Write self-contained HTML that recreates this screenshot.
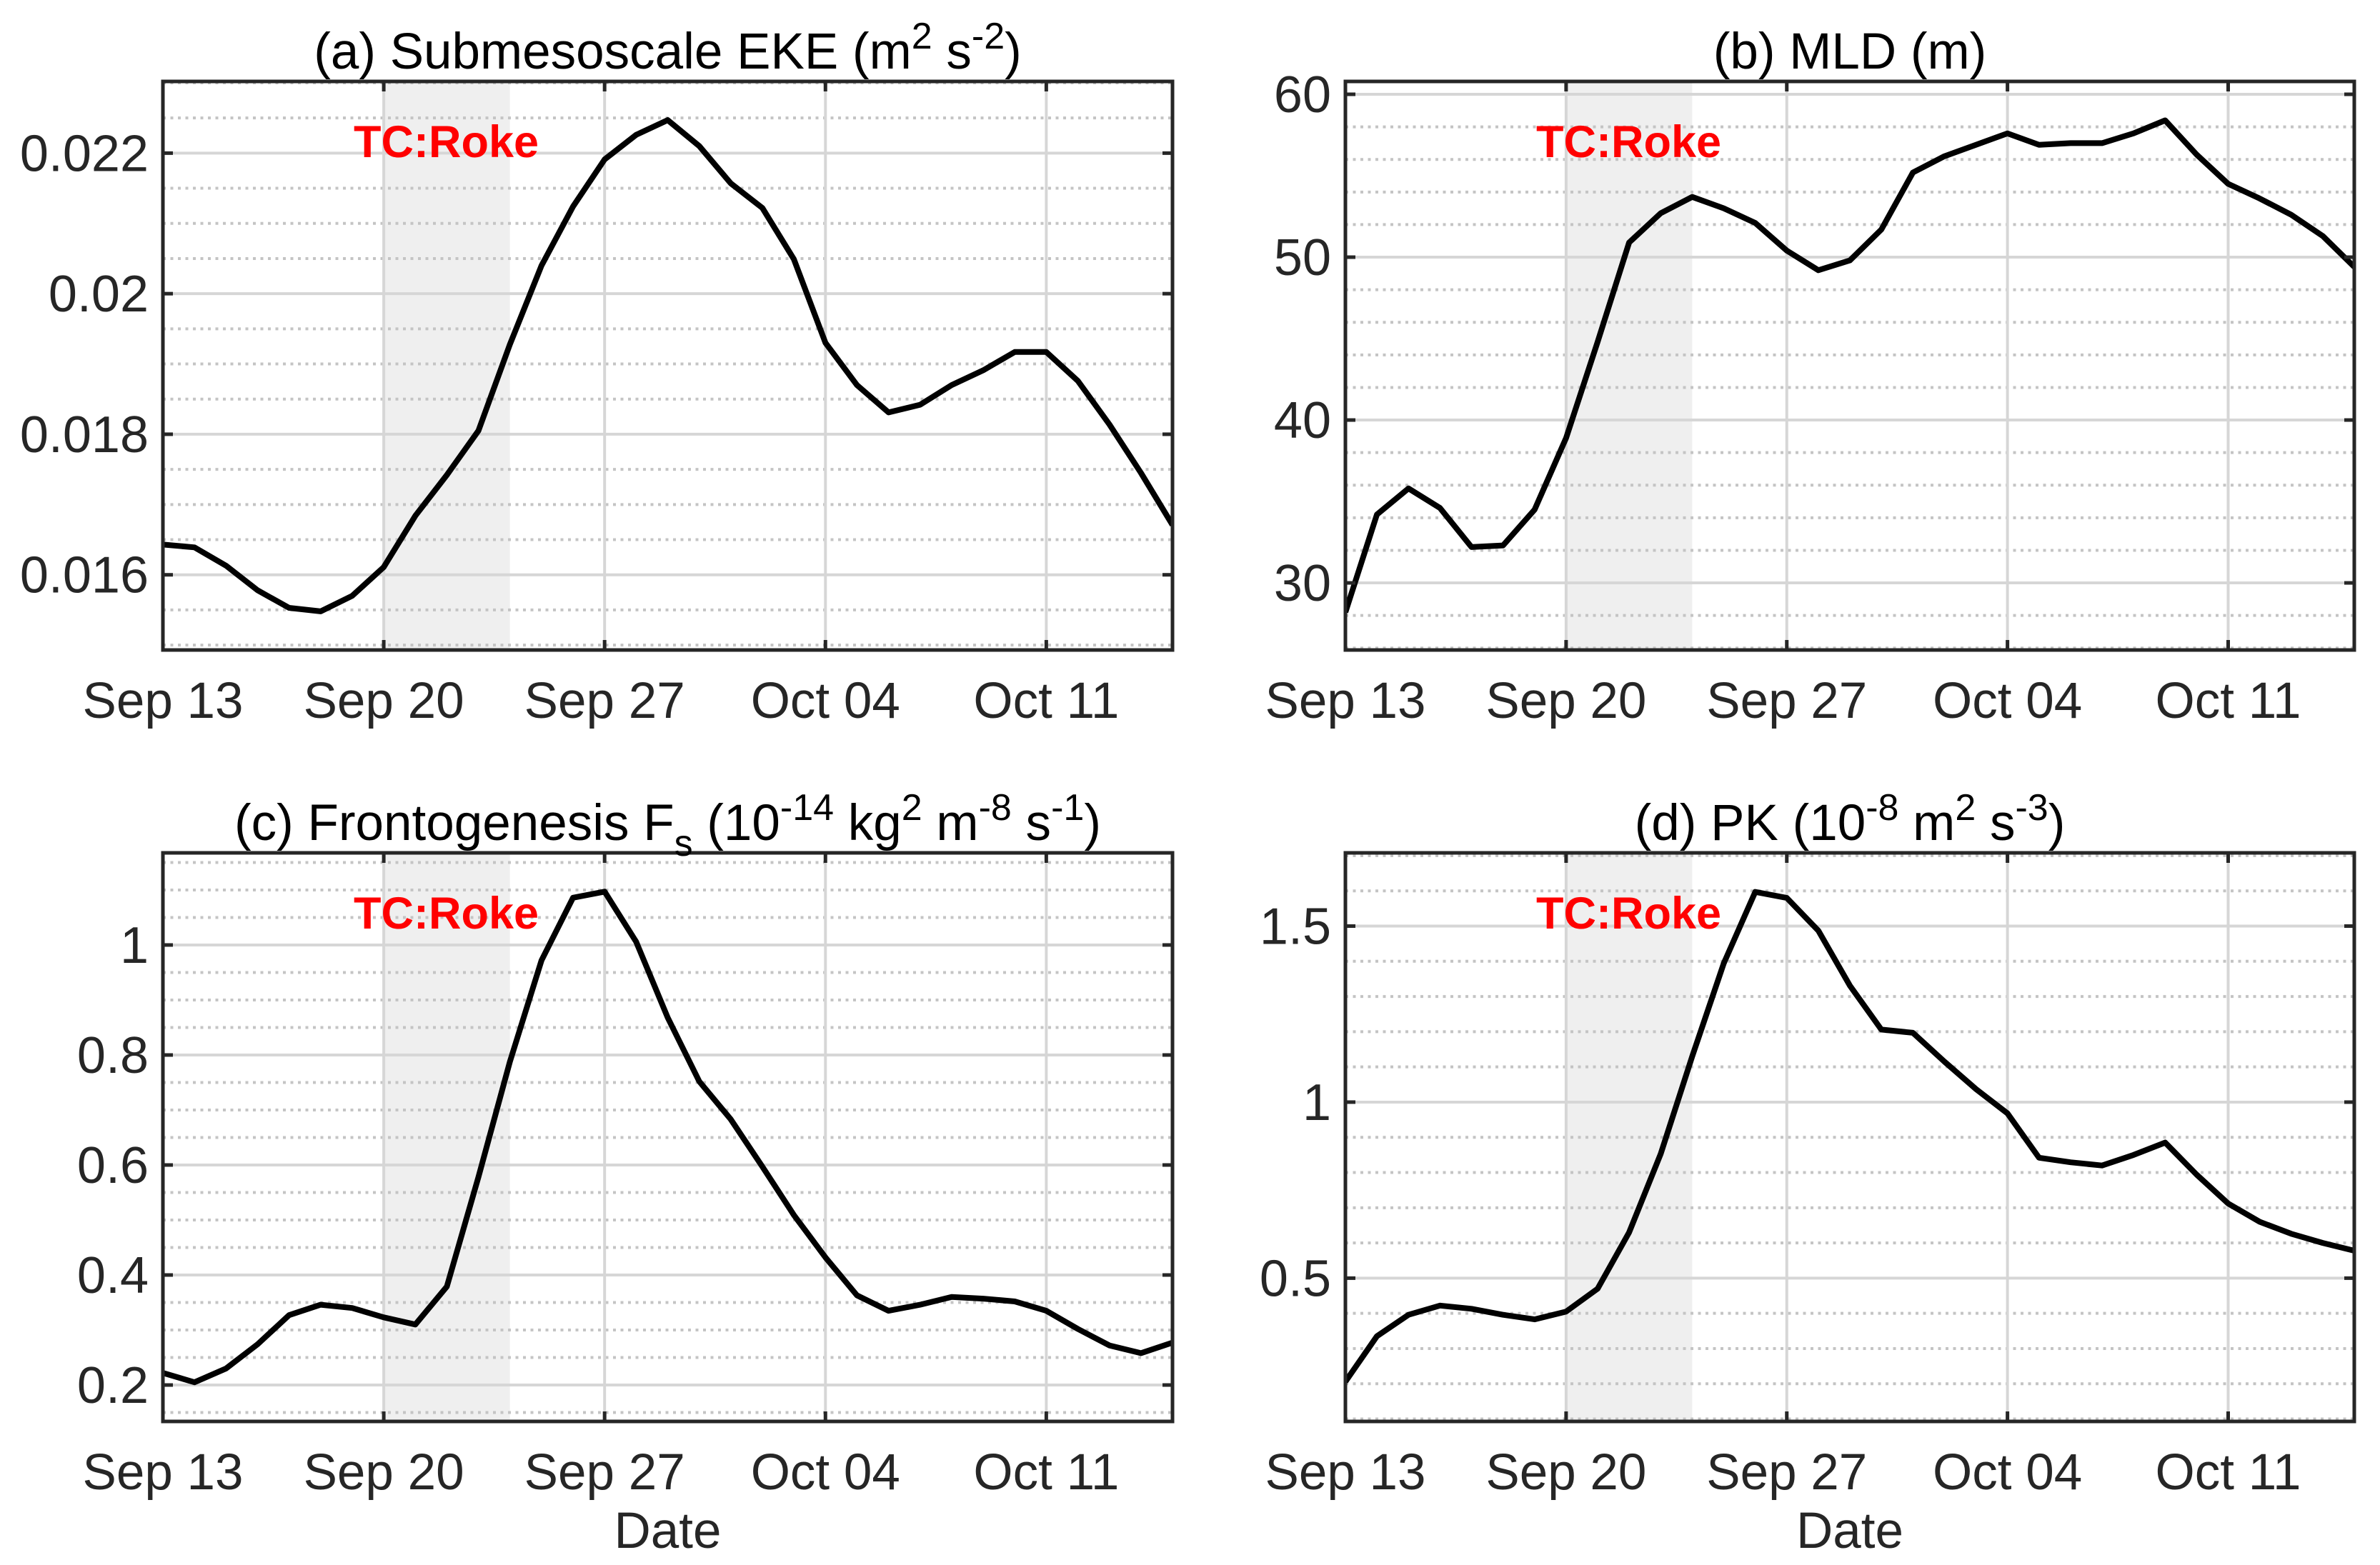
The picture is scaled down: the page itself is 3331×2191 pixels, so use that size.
<!DOCTYPE html>
<html><head><meta charset="utf-8"><style>
html,body{margin:0;padding:0;background:#fff;}
svg{display:block;font-family:"Liberation Sans",Arial,sans-serif;}
</style></head><body>
<svg id="fig" width="3331" height="2191" viewBox="0 0 3331 2191" xmlns="http://www.w3.org/2000/svg">
<rect x="0" y="0" width="3331" height="2191" fill="#fff"/>
<g id="root"></g>
</svg>
<script>
const NS="http://www.w3.org/2000/svg";
const dateLabels=["Sep 13","Sep 20","Sep 27","Oct 04","Oct 11"];
const dateTickDays=[0,7,14,21,28];
const shadeDays=[7,11];
const ekeValues=[0.01643,0.01639,0.01613,0.01578,0.01553,0.01548,0.0157,0.01611,0.01684,0.01742,0.01805,0.01928,0.0204,0.02124,0.02191,0.02226,0.02247,0.0221,0.02157,0.02122,0.02049,0.0193,0.0187,0.01831,0.01842,0.0187,0.01891,0.01917,0.01917,0.01876,0.01814,0.01745,0.01671];
const mldValues=[28.2,34.2,35.8,34.6,32.2,32.3,34.5,38.9,44.8,50.9,52.7,53.7,53.0,52.1,50.4,49.2,49.8,51.7,55.2,56.2,56.9,57.6,56.9,57.0,57.0,57.6,58.4,56.3,54.5,53.6,52.6,51.3,49.4];
const fsValues=[0.222,0.205,0.23,0.274,0.327,0.346,0.34,0.323,0.31,0.379,0.578,0.788,0.972,1.086,1.097,1.006,0.868,0.752,0.683,0.597,0.509,0.432,0.363,0.335,0.346,0.36,0.357,0.352,0.335,0.302,0.272,0.258,0.277];
const pkValues=[0.206,0.335,0.396,0.422,0.413,0.396,0.383,0.405,0.47,0.63,0.853,1.13,1.394,1.597,1.58,1.487,1.331,1.206,1.197,1.115,1.037,0.968,0.842,0.829,0.82,0.85,0.885,0.794,0.712,0.66,0.626,0.6,0.578];
const ekeTicks=[0.016,0.018,0.02,0.022];
const ekeTickLabels=["0.016","0.018","0.02","0.022"];
const mldTicks=[30,40,50,60];
const mldTickLabels=["30","40","50","60"];
const fsTicks=[0.2,0.4,0.6,0.8,1];
const fsTickLabels=["0.2","0.4","0.6","0.8","1"];
const pkTicks=[0.5,1,1.5];
const pkTickLabels=["0.5","1","1.5"];

const root=document.getElementById('root');
function el(tag,attrs,parent){const e=document.createElementNS(NS,tag);for(const k in attrs)e.setAttribute(k,attrs[k]);(parent||root).appendChild(e);return e;}

const panels=[
 {id:'a',x0:228,x1:1641,y0:114,y1:910,ymin:0.01493,ymax:0.02302,minor:0.0005,vals:ekeValues,ticks:ekeTicks,labs:ekeTickLabels,
  title:[["(a) Submesoscale EKE (m",0],["2",-1],[" s",0],["-2",-1],[")",0]],date:false,tcY:220},
 {id:'b',x0:1883,x1:3295,y0:114,y1:910,ymin:25.88,ymax:60.79,minor:2,vals:mldValues,ticks:mldTicks,labs:mldTickLabels,
  title:[["(b) MLD (m)",0]],date:false,tcY:220},
 {id:'c',x0:228,x1:1641,y0:1194,y1:1990,ymin:0.1338,ymax:1.1675,minor:0.05,vals:fsValues,ticks:fsTicks,labs:fsTickLabels,
  title:[["(c) Frontogenesis F",0],["s",1],[" (10",0],["-14",-1],[" kg",0],["2",-1],[" m",0],["-8",-1],[" s",0],["-1",-1],[")",0]],date:true,tcY:1300},
 {id:'d',x0:1883,x1:3295,y0:1194,y1:1990,ymin:0.093,ymax:1.708,minor:0.1,vals:pkValues,ticks:pkTicks,labs:pkTickLabels,
  title:[["(d) PK (10",0],["-8",-1],[" m",0],["2",-1],[" s",0],["-3",-1],[")",0]],date:true,tcY:1300}
];
const nDays=32;
panels.forEach(p=>{
  const g=el('g',{});
  
  
  const X=d=>p.x0+(p.x1-p.x0)*d/nDays;
  const Y=v=>p.y1-(p.y1-p.y0)*(v-p.ymin)/(p.ymax-p.ymin);
  const sh=el('rect',{x:X(shadeDays[0]),y:p.y0,width:X(shadeDays[1])-X(shadeDays[0]),height:p.y1-p.y0,fill:'#efefef'},g);
  
  
  const start=Math.ceil(p.ymin/p.minor-1e-6);
  for(let k=start;k*p.minor<=p.ymax+1e-9;k++){
    const v=k*p.minor;
    if(p.ticks.some(t=>Math.abs(t-v)<p.minor*0.01))continue;
    const l=el('line',{x1:p.x0,x2:p.x1,y1:Y(v),y2:Y(v),stroke:'#c4c4c4','stroke-width':4,'stroke-dasharray':'4 6.5'},g);
    
    
  }
  p.ticks.forEach(t=>{
    const l=el('line',{x1:p.x0,x2:p.x1,y1:Y(t),y2:Y(t),stroke:'#d6d6d6','stroke-width':4},g);
    
    
  });
  dateTickDays.forEach(d=>{
    const l=el('line',{x1:X(d),x2:X(d),y1:p.y0,y2:p.y1,stroke:'#d6d6d6','stroke-width':4},g);
    
    
  });
  const cp=el('clipPath',{id:'clip'+p.id},g);
  el('rect',{x:p.x0,y:p.y0,width:p.x1-p.x0,height:p.y1-p.y0},cp);
  const pts=p.vals.map((v,i)=>X(i).toFixed(1)+','+Y(v).toFixed(1)).join(' ');
  const pl=el('polyline',{points:pts,fill:'none',stroke:'#000','stroke-width':8,'stroke-linejoin':'round','clip-path':'url(#clip'+p.id+')'},g);
  
  
  const tc=el('text',{x:495+(p.x0-228),y:p.tcY,fill:'#ff0000','font-size':63,'font-weight':'bold'},g);
  tc.textContent='TC:Roke';
  
  
  p.ticks.forEach((t,i)=>{
    el('line',{x1:p.x0,x2:p.x0+14,y1:Y(t),y2:Y(t),stroke:'#262626','stroke-width':5},g);
    el('line',{x1:p.x1,x2:p.x1-14,y1:Y(t),y2:Y(t),stroke:'#262626','stroke-width':5},g);
    const tl=el('text',{x:p.x0-20,y:Y(t)+25,'text-anchor':'end','font-size':72,fill:'#262626'},g);
    tl.textContent=p.labs[i];
    
    
  });
  dateTickDays.forEach((d,i)=>{
    el('line',{x1:X(d),x2:X(d),y1:p.y1,y2:p.y1-14,stroke:'#262626','stroke-width':5},g);
    el('line',{x1:X(d),x2:X(d),y1:p.y0,y2:p.y0+14,stroke:'#262626','stroke-width':5},g);
    const tl=el('text',{x:X(d),y:p.y1+95,'text-anchor':'middle','font-size':71,fill:'#262626'},g);
    tl.textContent=dateLabels[i];
    
    
  });
  const bx=el('rect',{x:p.x0,y:p.y0,width:p.x1-p.x0,height:p.y1-p.y0,fill:'none',stroke:'#262626','stroke-width':5},g);
  
  
  const ti=el('text',{x:(p.x0+p.x1)/2,y:p.y0-18,'text-anchor':'middle','font-size':71,fill:'#000'},g);
  
  
  let cur=0;
  p.title.forEach(([s,lvl])=>{
    const off=lvl===-1?-28:(lvl===1?22:0);
    const ts=el('tspan',{dy:off-cur},ti);
    if(lvl!==0)ts.setAttribute('font-size',52);
    ts.textContent=s;cur=off;
  });
  if(p.date){
    const dl=el('text',{x:(p.x0+p.x1)/2,y:2167,'text-anchor':'middle','font-size':71,fill:'#262626'},g);
    dl.textContent='Date';
    
    
  }
});
</script>
</body></html>
